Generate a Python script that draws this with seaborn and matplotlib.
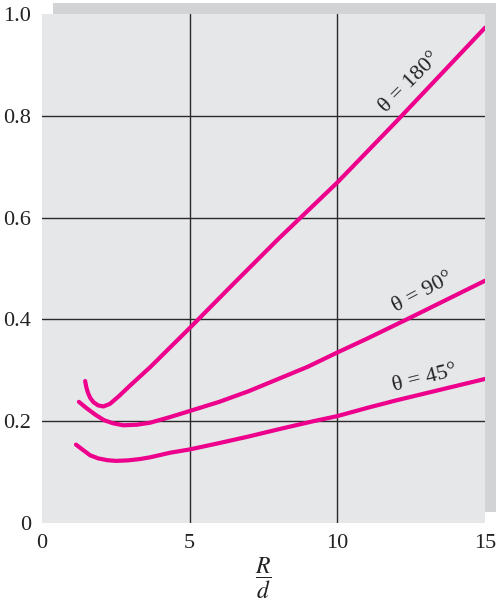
import matplotlib
matplotlib.use("Agg")
import matplotlib.pyplot as plt
from matplotlib.patches import Rectangle
import seaborn as sns
import pandas as pd

# Curve data: R/d versus the plotted coefficient for three bend angles
rd_180 = [1.46, 1.50, 1.56, 1.64, 1.75, 1.90, 2.08, 2.30, 2.60, 3.00, 3.66, 5.00, 6.50, 8.00, 10.00, 12.00, 15.00]
val_180 = [0.279, 0.267, 0.255, 0.245, 0.237, 0.231, 0.229, 0.234, 0.249, 0.271, 0.306, 0.383, 0.471, 0.558, 0.669, 0.789, 0.973]

rd_90 = [1.25, 1.50, 1.80, 2.10, 2.40, 2.75, 3.20, 3.66, 4.33, 5.00, 6.00, 7.00, 8.00, 9.00, 10.00, 11.00, 12.35, 13.50, 15.00]
val_90 = [0.238, 0.226, 0.213, 0.202, 0.196, 0.192, 0.193, 0.197, 0.208, 0.220, 0.238, 0.259, 0.283, 0.307, 0.335, 0.362, 0.400, 0.433, 0.476]

rd_45 = [1.15, 1.40, 1.63, 1.90, 2.20, 2.50, 2.90, 3.30, 3.66, 4.33, 5.00, 6.00, 7.00, 8.00, 9.19, 10.00, 11.00, 12.00, 13.50, 15.00]
val_45 = [0.154, 0.143, 0.133, 0.127, 0.1235, 0.122, 0.123, 0.1255, 0.129, 0.138, 0.1445, 0.157, 0.170, 0.184, 0.200, 0.210, 0.226, 0.241, 0.262, 0.283]

curve_names = ["θ = 180°", "θ = 90°", "θ = 45°"]
x_ticks = [0, 5, 10, 15]
y_ticks = [0, 0.2, 0.4, 0.6, 0.8, 1.0]
y_tick_labels = ["0", "0.2", "0.4", "0.6", "0.8", "1.0"]

df = pd.concat([
    pd.DataFrame({"R/d": rd_180, "value": val_180, "curve": curve_names[0]}),
    pd.DataFrame({"R/d": rd_90, "value": val_90, "curve": curve_names[1]}),
    pd.DataFrame({"R/d": rd_45, "value": val_45, "curve": curve_names[2]}),
], ignore_index=True)

sns.set_style("white")
plt.rcParams["font.family"] = ["Liberation Serif", "DejaVu Serif"]
plt.rcParams["mathtext.fontset"] = "stix"

W, H = 496, 609
fig = plt.figure(figsize=(W / 100, H / 100), dpi=100)
fig.patch.set_facecolor("white")

# panel geometry in pixels
left, right, top, bottom = 42, 485, 14, 523
ax = fig.add_axes([left / W, (H - bottom) / H, (right - left) / W, (bottom - top) / H])

# offset shadow behind the panel
fig.patches.append(Rectangle(((left + 11) / W, (H - bottom + 11) / H),
                             (right - left) / W, (bottom - top) / H,
                             transform=fig.transFigure, facecolor="#d2d3d5",
                             edgecolor="none", zorder=0))
ax.set_facecolor("#e6e7e9")
ax.set_zorder(1)

for v in x_ticks[1:-1]:
    ax.axvline(v, color="#2a2a2a", lw=1.0, zorder=1)
for v in y_ticks[1:-1]:
    ax.axhline(v, color="#2a2a2a", lw=1.0, zorder=1)

pink = "#ec008c"
sns.lineplot(data=df, x="R/d", y="value", hue="curve", sort=False,
             palette={n: pink for n in curve_names}, linewidth=3.0,
             legend=False, ax=ax, zorder=3)

ax.set_xlim(0, 15)
ax.set_ylim(0, 1.0)
ax.set_xticks(x_ticks)
ax.set_xticklabels([str(t) for t in x_ticks])
ax.set_yticks(y_ticks)
ax.set_yticklabels(y_tick_labels)
ax.tick_params(length=0, labelsize=16, colors="#222222", pad=8)
for s in ax.spines.values():
    s.set_visible(False)
ax.set_xlabel("")
ax.set_ylabel("")

# curve labels along the lines
lab_style = dict(fontsize=16, color="#222222", ha="center", va="center", zorder=4)
ax.text(12.46, 0.865, curve_names[0], rotation=45, **lab_style)
ax.text(12.9, 0.452, curve_names[1], rotation=28, **lab_style)
ax.text(12.97, 0.283, curve_names[2], rotation=14, **lab_style)

fig.text(263 / W, 1 - 578 / H, r"$\dfrac{R}{d}$", fontsize=17, ha="center",
         va="center", color="#222222")

fig.savefig("out.png", dpi=100)
